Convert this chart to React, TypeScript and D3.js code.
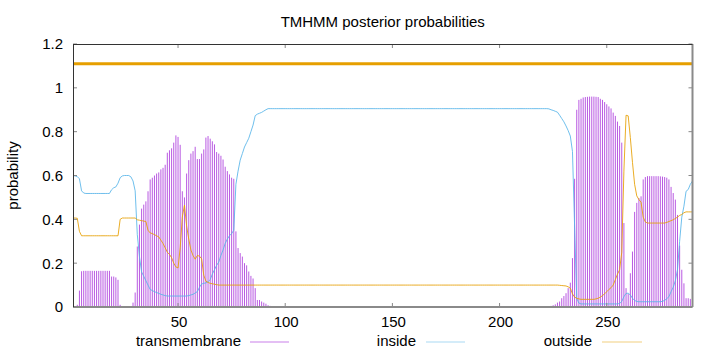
import React from "react";
import * as d3 from "d3";

const TITLE = "TMHMM posterior probabilities";
const Y_LABEL = "probability";
const X_TICKS = [50, 100, 150, 200, 250];
const Y_TICKS = [0, 0.2, 0.4, 0.6, 0.8, 1, 1.2];
const SERIES_NAMES = ["transmembrane", "inside", "outside"];
const TOPOLOGY_LEVEL = 1.11;
const SEQ_START = 1;
const SEQ_END = 290;

// posterior probability of transmembrane, residues 1..290
const tm = [
  0, 0, 0.01, 0.075, 0.163, 0.165, 0.165, 0.165, 0.165, 0.165,
  0.165, 0.165, 0.165, 0.165, 0.165, 0.165, 0.165, 0.165, 0.139, 0.139,
  0.135, 0.124, 0.01, 0, 0, 0, 0, 0, 0.02, 0.066,
  0.276, 0.376, 0.449, 0.467, 0.482, 0.528, 0.582, 0.59, 0.6, 0.609,
  0.614, 0.628, 0.635, 0.649, 0.704, 0.715, 0.724, 0.75, 0.783, 0.776,
  0.74, 0.528, 0.5, 0.609, 0.67, 0.7, 0.711, 0.731, 0.675, 0.675,
  0.7, 0.719, 0.773, 0.78, 0.768, 0.756, 0.742, 0.707, 0.7, 0.69,
  0.673, 0.64, 0.62, 0.605, 0.59, 0.585, 0.345, 0.269, 0.246, 0.23,
  0.2, 0.19, 0.162, 0.142, 0.13, 0.086, 0.032, 0.032, 0.025, 0.02,
  0.015, 0.008, 0.005, 0.003, 0.002, 0.001, 0, 0, 0, 0,
  0, 0, 0, 0, 0, 0, 0, 0, 0, 0,
  0, 0, 0, 0, 0, 0, 0, 0, 0, 0,
  0, 0, 0, 0, 0, 0, 0, 0, 0, 0,
  0, 0, 0, 0, 0, 0, 0, 0, 0, 0,
  0, 0, 0, 0, 0, 0, 0, 0, 0, 0,
  0, 0, 0, 0, 0, 0, 0, 0, 0, 0,
  0, 0, 0, 0, 0, 0, 0, 0, 0, 0,
  0, 0, 0, 0, 0, 0, 0, 0, 0, 0,
  0, 0, 0, 0, 0, 0, 0, 0, 0, 0,
  0, 0, 0, 0, 0, 0, 0, 0, 0, 0,
  0.002, 0.002, 0.002, 0.002, 0.002, 0.002, 0.002, 0.002, 0.002, 0.002,
  0.002, 0.002, 0.002, 0.002, 0.002, 0.003, 0.003, 0.003, 0.003, 0.003,
  0.003, 0.003, 0.004, 0.005, 0.008, 0.012, 0.02, 0.025, 0.04, 0.05,
  0.063, 0.086, 0.111, 0.223, 0.585, 0.9, 0.945, 0.95, 0.956, 0.958,
  0.959, 0.96, 0.96, 0.96, 0.959, 0.958, 0.95, 0.945, 0.935, 0.925,
  0.915, 0.906, 0.887, 0.872, 0.846, 0.826, 0.75, 0.383, 0.086, 0.06,
  0.154, 0.253, 0.434, 0.475, 0.497, 0.505, 0.582, 0.593, 0.597, 0.597,
  0.597, 0.597, 0.597, 0.597, 0.596, 0.595, 0.593, 0.59, 0.582, 0.548,
  0.52, 0.49, 0.42, 0.28, 0.17, 0.108, 0.04, 0.04, 0.037, 0.035,
];

// posterior probability of inside, residues 1..290
const inside = [
  0.6, 0.598, 0.595, 0.585, 0.53, 0.52, 0.518, 0.518, 0.518, 0.518,
  0.518, 0.518, 0.518, 0.518, 0.518, 0.518, 0.518, 0.518, 0.535, 0.544,
  0.548, 0.565, 0.59, 0.598, 0.6, 0.6, 0.6, 0.594, 0.575, 0.53,
  0.33, 0.23, 0.16, 0.14, 0.12, 0.1, 0.08, 0.075, 0.07, 0.066,
  0.062, 0.058, 0.055, 0.052, 0.05, 0.05, 0.05, 0.05, 0.05, 0.05,
  0.05, 0.05, 0.05, 0.05, 0.052, 0.055, 0.058, 0.064, 0.07, 0.09,
  0.105, 0.108, 0.11, 0.115, 0.125, 0.15, 0.17, 0.19, 0.205, 0.235,
  0.26, 0.29, 0.31, 0.325, 0.335, 0.35, 0.56, 0.62, 0.67, 0.7,
  0.73, 0.75, 0.77, 0.8, 0.83, 0.873, 0.88, 0.884, 0.888, 0.894,
  0.9, 0.905, 0.905, 0.905, 0.905, 0.905, 0.905, 0.905, 0.905, 0.905,
  0.905, 0.905, 0.905, 0.905, 0.905, 0.905, 0.905, 0.905, 0.905, 0.905,
  0.905, 0.905, 0.905, 0.905, 0.905, 0.905, 0.905, 0.905, 0.905, 0.905,
  0.905, 0.905, 0.905, 0.905, 0.905, 0.905, 0.905, 0.905, 0.905, 0.905,
  0.905, 0.905, 0.905, 0.905, 0.905, 0.905, 0.905, 0.905, 0.905, 0.905,
  0.905, 0.905, 0.905, 0.905, 0.905, 0.905, 0.905, 0.905, 0.905, 0.905,
  0.905, 0.905, 0.905, 0.905, 0.905, 0.905, 0.905, 0.905, 0.905, 0.905,
  0.905, 0.905, 0.905, 0.905, 0.905, 0.905, 0.905, 0.905, 0.905, 0.905,
  0.905, 0.905, 0.905, 0.905, 0.905, 0.905, 0.905, 0.905, 0.905, 0.905,
  0.905, 0.905, 0.905, 0.905, 0.905, 0.905, 0.905, 0.905, 0.905, 0.905,
  0.905, 0.905, 0.905, 0.905, 0.905, 0.905, 0.905, 0.905, 0.905, 0.905,
  0.905, 0.905, 0.905, 0.905, 0.905, 0.905, 0.905, 0.905, 0.905, 0.905,
  0.905, 0.905, 0.905, 0.905, 0.905, 0.905, 0.905, 0.905, 0.905, 0.905,
  0.905, 0.905, 0.904, 0.9, 0.897, 0.893, 0.889, 0.875, 0.86, 0.845,
  0.826, 0.805, 0.78, 0.71, 0.37, 0.04, 0.018, 0.014, 0.014, 0.014,
  0.014, 0.014, 0.014, 0.014, 0.014, 0.014, 0.014, 0.014, 0.014, 0.014,
  0.014, 0.014, 0.014, 0.014, 0.014, 0.016, 0.025, 0.047, 0.062, 0.063,
  0.055, 0.04, 0.03, 0.025, 0.024, 0.024, 0.024, 0.024, 0.024, 0.024,
  0.024, 0.024, 0.024, 0.024, 0.024, 0.026, 0.03, 0.038, 0.047, 0.07,
  0.09, 0.12, 0.17, 0.3, 0.41, 0.46, 0.528, 0.536, 0.56, 0.575,
];

// posterior probability of outside, residues 1..290
const outside = [
  0.406, 0.406, 0.405, 0.345, 0.325, 0.325, 0.325, 0.325, 0.325, 0.325,
  0.325, 0.325, 0.325, 0.325, 0.325, 0.325, 0.325, 0.325, 0.325, 0.325,
  0.325, 0.325, 0.4, 0.406, 0.406, 0.406, 0.406, 0.406, 0.406, 0.406,
  0.398, 0.396, 0.394, 0.392, 0.39, 0.35, 0.338, 0.335, 0.33, 0.325,
  0.32, 0.305, 0.29, 0.27, 0.25, 0.24, 0.225, 0.2, 0.183, 0.178,
  0.27, 0.41, 0.465, 0.37, 0.31, 0.26, 0.235, 0.218, 0.235, 0.232,
  0.22, 0.145, 0.118, 0.112, 0.108, 0.106, 0.104, 0.102, 0.1, 0.1,
  0.1, 0.1, 0.1, 0.1, 0.1, 0.1, 0.1, 0.1, 0.1, 0.1,
  0.1, 0.1, 0.1, 0.1, 0.1, 0.1, 0.1, 0.1, 0.1, 0.1,
  0.1, 0.1, 0.1, 0.1, 0.1, 0.1, 0.1, 0.1, 0.1, 0.1,
  0.1, 0.1, 0.1, 0.1, 0.1, 0.1, 0.1, 0.1, 0.1, 0.1,
  0.1, 0.1, 0.1, 0.1, 0.1, 0.1, 0.1, 0.1, 0.1, 0.1,
  0.1, 0.1, 0.1, 0.1, 0.1, 0.1, 0.1, 0.1, 0.1, 0.1,
  0.1, 0.1, 0.1, 0.1, 0.1, 0.1, 0.1, 0.1, 0.1, 0.1,
  0.1, 0.1, 0.1, 0.1, 0.1, 0.1, 0.1, 0.1, 0.1, 0.1,
  0.1, 0.1, 0.1, 0.1, 0.1, 0.1, 0.1, 0.1, 0.1, 0.1,
  0.1, 0.1, 0.1, 0.1, 0.1, 0.1, 0.1, 0.1, 0.1, 0.1,
  0.1, 0.1, 0.1, 0.1, 0.1, 0.1, 0.1, 0.1, 0.1, 0.1,
  0.1, 0.1, 0.1, 0.1, 0.1, 0.1, 0.1, 0.1, 0.1, 0.1,
  0.1, 0.1, 0.1, 0.1, 0.1, 0.1, 0.1, 0.1, 0.1, 0.1,
  0.1, 0.1, 0.1, 0.1, 0.1, 0.1, 0.1, 0.1, 0.1, 0.1,
  0.1, 0.1, 0.1, 0.1, 0.1, 0.1, 0.1, 0.1, 0.1, 0.1,
  0.1, 0.1, 0.1, 0.1, 0.1, 0.1, 0.1, 0.099, 0.098, 0.097,
  0.096, 0.092, 0.086, 0.06, 0.045, 0.04, 0.037, 0.035, 0.035, 0.035,
  0.035, 0.035, 0.035, 0.035, 0.037, 0.04, 0.045, 0.052, 0.06, 0.07,
  0.08, 0.088, 0.1, 0.125, 0.15, 0.17, 0.25, 0.62, 0.875, 0.872,
  0.773, 0.66, 0.56, 0.507, 0.49, 0.478, 0.41, 0.388, 0.383, 0.383,
  0.383, 0.383, 0.383, 0.383, 0.383, 0.383, 0.383, 0.386, 0.39, 0.394,
  0.398, 0.404, 0.41, 0.418, 0.422, 0.43, 0.434, 0.434, 0.434, 0.434,
];

const W = 720;
const H = 352;
const PLOT = { left: 73, right: 692.5, top: 44, bottom: 307 };
const FONT = "'Liberation Sans', Arial, Helvetica, sans-serif";
const C_TM = "#9400d3";
const C_IN = "#56b4e9";
const C_OUT = "#e69f00";

export default function App() {
  const x = d3.scaleLinear().domain([SEQ_START, SEQ_END]).range([PLOT.left, PLOT.right]);
  const y = d3.scaleLinear().domain([0, 1.2]).range([PLOT.bottom, PLOT.top]);
  const idx = d3.range(SEQ_START, SEQ_END + 1);

  const insidePath = d3
    .line<number>()
    .x((i) => x(i))
    .y((i) => y(inside[i - 1]))(idx) as string;
  const outsidePath = d3
    .line<number>()
    .x((i) => x(i))
    .y((i) => y(outside[i - 1]))(idx) as string;

  const legend = [
    { name: SERIES_NAMES[0], color: C_TM, textEnd: 241, lx0: 250, lx1: 289 },
    { name: SERIES_NAMES[1], color: C_IN, textEnd: 416, lx0: 426, lx1: 465 },
    { name: SERIES_NAMES[2], color: C_OUT, textEnd: 592, lx0: 602, lx1: 642 },
  ];

  return (
    <svg
      width={W}
      height={H}
      style={{ position: "absolute", left: 0, top: 0, background: "#fff" }}
      fontFamily={FONT}
      fontSize={15}
    >
      <rect x={0} y={0} width={W} height={H} fill="#fff" />
      <text x={(PLOT.left + PLOT.right) / 2} y={27} textAnchor="middle" fill="#000">
        {TITLE}
      </text>
      <text
        transform={`translate(18,${(PLOT.top + PLOT.bottom) / 2}) rotate(-90)`}
        textAnchor="middle"
        fill="#000"
      >
        {Y_LABEL}
      </text>

      {/* impulses */}
      {idx.map((i) =>
        tm[i - 1] > 0 ? (
          <line
            key={i}
            x1={x(i)}
            x2={x(i)}
            y1={y(0)}
            y2={y(tm[i - 1])}
            stroke={C_TM}
            strokeOpacity={0.65}
            strokeWidth={1}
          />
        ) : null
      )}

      <path d={insidePath} fill="none" stroke={C_IN} strokeWidth={1} strokeOpacity={0.85} />
      <path d={outsidePath} fill="none" stroke={C_OUT} strokeWidth={1} strokeOpacity={0.85} />

      <line
        x1={x(SEQ_START)}
        x2={x(SEQ_END)}
        y1={y(TOPOLOGY_LEVEL)}
        y2={y(TOPOLOGY_LEVEL)}
        stroke={C_OUT}
        strokeWidth={3}
      />

      {/* ticks */}
      {Y_TICKS.map((t) => (
        <g key={t}>
          <line x1={PLOT.left} x2={PLOT.left + 4} y1={y(t)} y2={y(t)} stroke="#888" />
          <line x1={PLOT.right - 4} x2={PLOT.right} y1={y(t)} y2={y(t)} stroke="#888" />
          <text x={63} y={y(t) + 5.4} textAnchor="end" fill="#000">
            {String(t)}
          </text>
        </g>
      ))}
      {X_TICKS.map((t) => (
        <g key={t}>
          <line x1={x(t)} x2={x(t)} y1={PLOT.bottom} y2={PLOT.bottom - 4} stroke="#888" />
          <line x1={x(t)} x2={x(t)} y1={PLOT.top} y2={PLOT.top + 4} stroke="#888" />
          <text x={x(t) + 1} y={327} textAnchor="middle" fill="#000">
            {String(t)}
          </text>
        </g>
      ))}

      {/* border */}
      <line x1={PLOT.left} x2={PLOT.right} y1={PLOT.bottom} y2={PLOT.bottom} stroke="#8a8a8a" strokeWidth={2} />
      <line x1={PLOT.right} x2={PLOT.right} y1={PLOT.top} y2={PLOT.bottom} stroke="#8a8a8a" strokeWidth={2} />
      <line x1={PLOT.left} x2={PLOT.right} y1={PLOT.top + 0.5} y2={PLOT.top + 0.5} stroke="#333" strokeWidth={1} />
      <line x1={PLOT.left + 0.5} x2={PLOT.left + 0.5} y1={PLOT.top} y2={PLOT.bottom} stroke="#333" strokeWidth={1} />

      {/* legend */}
      {legend.map((l) => (
        <g key={l.name}>
          <text x={l.textEnd} y={346} textAnchor="end" fill="#000">
            {l.name}
          </text>
          <line x1={l.lx0} x2={l.lx1} y1={342} y2={342} stroke={l.color} strokeWidth={1} strokeOpacity={0.5} />
        </g>
      ))}
    </svg>
  );
}
